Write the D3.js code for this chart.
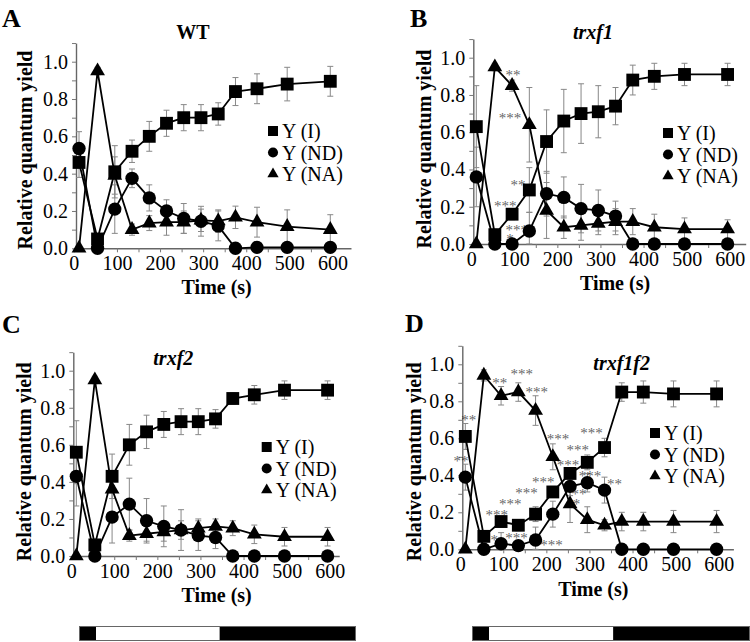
<!DOCTYPE html>
<html><head><meta charset="utf-8">
<script src="https://cdn.jsdelivr.net/npm/d3@7"></script>
<style>
body{margin:0;background:#fff}
svg{display:block}
text{font-family:"Liberation Serif","Times New Roman",serif;fill:#000}
</style>
</head><body>
<svg id="chart" width="750" height="642"></svg>
<script>
// ---------- data ----------
const times = [12, 55, 95, 135, 175, 215, 255, 295, 335, 375, 425, 495, 595];
const seriesNames = ["Y (I)", "Y (ND)", "Y (NA)"];
const xTickValues = [0, 50, 100, 150, 200, 250, 300, 350, 400, 450, 500, 550, 600];
const yTickValues = [0, 0.1, 0.2, 0.3, 0.4, 0.5, 0.6, 0.7, 0.8, 0.9, 1.0, 1.1];

// WT
const wtYI     = [0.46, 0.05, 0.41, 0.52, 0.60, 0.67, 0.70, 0.70, 0.72, 0.84, 0.855, 0.88, 0.895];
const wtYIerr  = [0.08, 0.02, 0.14, 0.06, 0.08, 0.07, 0.07, 0.07, 0.06, 0.075, 0.08, 0.09, 0.08];
const wtND     = [0.535, 0.0, 0.21, 0.375, 0.27, 0.20, 0.16, 0.145, 0.12, 0.0, 0.005, 0.005, 0.005];
const wtNDerr  = [0.09, 0, 0.13, 0.05, 0.07, 0.06, 0.08, 0.08, 0.08, 0, 0, 0, 0];
const wtNA     = [0.0, 0.95, 0.39, 0.10, 0.135, 0.14, 0.14, 0.15, 0.146, 0.166, 0.14, 0.116, 0.10];
const wtNAerr  = [0, 0.02, 0.10, 0.03, 0.04, 0.07, 0.06, 0.06, 0.06, 0.06, 0.08, 0.09, 0.08];

// trxf1
const f1YI     = [0.63, 0.05, 0.16, 0.29, 0.55, 0.66, 0.70, 0.71, 0.74, 0.88, 0.90, 0.91, 0.91];
const f1YIerr  = [0.22, 0.03, 0.03, 0.12, 0.17, 0.17, 0.16, 0.14, 0.10, 0.08, 0.07, 0.06, 0.06];
const f1ND     = [0.36, 0.0, 0.0, 0.07, 0.27, 0.25, 0.19, 0.18, 0.15, 0.0, 0.0, 0.0, 0.0];
const f1NDerr  = [0.16, 0, 0, 0.10, 0.12, 0.11, 0.13, 0.11, 0.08, 0, 0, 0, 0];
const f1NA     = [0.0, 0.95, 0.85, 0.64, 0.18, 0.09, 0.10, 0.11, 0.12, 0.12, 0.09, 0.08, 0.08];
const f1NAerr  = [0, 0.02, 0.03, 0.20, 0.15, 0.06, 0.08, 0.06, 0.07, 0.07, 0.07, 0.06, 0.05];

// trxf2
const f2YI     = [0.56, 0.06, 0.43, 0.60, 0.67, 0.71, 0.725, 0.725, 0.74, 0.85, 0.87, 0.895, 0.895];
const f2YIerr  = [0.17, 0.02, 0.12, 0.11, 0.09, 0.07, 0.07, 0.07, 0.05, 0.03, 0.05, 0.05, 0.05];
const f2ND     = [0.43, 0.0, 0.21, 0.28, 0.19, 0.16, 0.14, 0.11, 0.10, 0.0, 0.0, 0.0, 0.0];
const f2NDerr  = [0.16, 0, 0.14, 0.14, 0.12, 0.11, 0.11, 0.08, 0.06, 0, 0, 0, 0];
const f2NA     = [0.0, 0.95, 0.36, 0.11, 0.12, 0.13, 0.14, 0.15, 0.16, 0.15, 0.117, 0.104, 0.104];
const f2NAerr  = [0, 0.02, 0.02, 0.03, 0.04, 0.05, 0.05, 0.05, 0.04, 0.04, 0.05, 0.05, 0.05];

// trxf1f2
const f12YI    = [0.61, 0.07, 0.15, 0.13, 0.19, 0.31, 0.41, 0.47, 0.55, 0.85, 0.85, 0.84, 0.84];
const f12YIerr = [0.07, 0.03, 0.03, 0.03, 0.04, 0.03, 0.03, 0.04, 0.05, 0.05, 0.06, 0.07, 0.07];
const f12ND    = [0.39, 0.0, 0.03, 0.02, 0.05, 0.19, 0.34, 0.36, 0.32, 0.0, 0.0, 0.0, 0.0];
const f12NDerr = [0.07, 0, 0.06, 0.02, 0.07, 0.07, 0.05, 0.05, 0.07, 0, 0, 0, 0];
const f12NA    = [0.0, 0.94, 0.83, 0.85, 0.75, 0.50, 0.245, 0.16, 0.13, 0.15, 0.15, 0.15, 0.15];
const f12NAerr = [0, 0.03, 0.05, 0.05, 0.08, 0.07, 0.10, 0.07, 0.03, 0.05, 0.05, 0.06, 0.06];

// significance marks (time, value where the mark sits, text)
const f1Stars = [
  {t: 97, v: 0.92, s: "**"},
  {t: 90, v: 0.69, s: "***"},
  {t: 109, v: 0.33, s: "**"},
  {t: 79, v: 0.22, s: "***"},
  {t: 106, v: 0.09, s: "***"},
  {t: 90, v: 0.04, s: "*"}
];
const f12Stars = [
  {t: 20, v: 0.71, s: "**"},
  {t: 2, v: 0.49, s: "**"},
  {t: 92, v: 0.91, s: "**"},
  {t: 143, v: 0.96, s: "***"},
  {t: 178, v: 0.865, s: "***"},
  {t: 227, v: 0.61, s: "***"},
  {t: 305, v: 0.64, s: "***"},
  {t: 273, v: 0.55, s: "***"},
  {t: 250, v: 0.47, s: "***"},
  {t: 301, v: 0.41, s: "***"},
  {t: 358, v: 0.365, s: "**"},
  {t: 276, v: 0.31, s: "**"},
  {t: 270, v: 0.26, s: "*"},
  {t: 193, v: 0.38, s: "***"},
  {t: 154, v: 0.32, s: "***"},
  {t: 116, v: 0.26, s: "***"},
  {t: 85, v: 0.20, s: "***"},
  {t: 79, v: 0.065, s: "*"},
  {t: 131, v: 0.077, s: "***"},
  {t: 212, v: 0.038, s: "***"}
];

// light regime bar (seconds)
const lightPhases = [
  {state: "dark", from: 0, to: 40},
  {state: "light", from: 40, to: 330},
  {state: "dark", from: 330, to: 650}
];

// ---------- layout ----------
const panels = [
  {letter: "A", title: "WT", italic: false,
   values: [wtYI, wtND, wtNA], errors: [wtYIerr, wtNDerr, wtNAerr], stars: [],
   L: {ox: 76, oy: 248.3, ky: 186.6, tMax: 643, lx: 2, ly: 27, tx: 193, ty: 38.5,
       ylx: 32, yly: 150, xlx: 216.7, xly: 294, legX: 273, legY: 131}},
  {letter: "B", title: "trxf1", italic: true,
   values: [f1YI, f1ND, f1NA], errors: [f1YIerr, f1NDerr, f1NAerr], stars: f1Stars,
   L: {ox: 473.3, oy: 244, ky: 186.3, tMax: 637, lx: 410, ly: 27, tx: 593, ty: 38.5,
       ylx: 431, yly: 149, xlx: 615, xly: 289.5, legX: 668, legY: 133}},
  {letter: "C", title: "trxf2", italic: true,
   values: [f2YI, f2ND, f2NA], errors: [f2YIerr, f2NDerr, f2NAerr], stars: [],
   L: {ox: 73.3, oy: 556, ky: 185.3, tMax: 622, lx: 2, ly: 333, tx: 173.3, ty: 365,
       ylx: 31, yly: 461.7, xlx: 216.7, xly: 601.5, legX: 266.7, legY: 447}},
  {letter: "D", title: "trxf1f2", italic: true,
   values: [f12YI, f12ND, f12NA], errors: [f12YIerr, f12NDerr, f12NAerr], stars: f12Stars,
   L: {ox: 462.3, oy: 549.3, ky: 185, tMax: 634, lx: 405, ly: 332, tx: 621.7, ty: 370,
       ylx: 421, yly: 461.7, xlx: 593.3, xly: 596, legX: 655, legY: 433}}
];
const bars = [{x0: 79, x1: 356}, {x0: 472, x1: 750}];
const BAR_Y = 626, BAR_H = 15;
const KX = 0.431, T0 = 5;
const symbolTypes = [d3.symbolSquare, d3.symbolCircle, d3.symbolTriangle];
const symbolSizes = [165, 140, 95];
const legendSizes = [100, 80, 55];

const svg = d3.select("#chart");
svg.append("rect").attr("width", 750).attr("height", 642).attr("fill", "#fff");

panels.forEach(p => {
  const L = p.L;
  const x = d3.scaleLinear().domain([T0, L.tMax]).range([L.ox, L.ox + (L.tMax - T0) * KX]);
  const y = d3.scaleLinear().domain([0, 1.1]).range([L.oy, L.oy - 1.1 * L.ky]);
  const g = svg.append("g");

  // axes
  const yAx = g.append("g").attr("transform", `translate(${L.ox},0)`)
    .call(d3.axisLeft(y).tickValues(yTickValues).tickSize(4).tickSizeOuter(0).tickPadding(4)
      .tickFormat(d => (Math.round(d * 10) % 2 === 0 && d <= 1.0001) ? d3.format(".1f")(d) : ""));
  const xAx = g.append("g").attr("transform", `translate(0,${L.oy})`)
    .call(d3.axisBottom(x).tickValues(xTickValues.filter(v => v <= L.tMax)).tickSize(4).tickSizeOuter(0).tickPadding(4)
      .tickFormat(d => d % 100 === 0 ? d : ""));
  [yAx, xAx].forEach(a => {
    a.select(".domain").attr("stroke", "#666").attr("stroke-width", 1.4);
    a.selectAll(".tick line").attr("stroke", "#777").attr("stroke-width", 1);
    a.selectAll(".tick text").style("font-size", "20px").attr("fill", "#000");
  });

  // error bars
  p.values.forEach((vals, si) => {
    const errs = p.errors[si];
    vals.forEach((v, i) => {
      const e = errs[i];
      if (!e) return;
      const cx = x(times[i]);
      const y1 = y(Math.max(0, v - e)), y2 = y(v + e);
      g.append("line").attr("x1", cx).attr("x2", cx).attr("y1", y1).attr("y2", y2)
        .attr("stroke", "#888").attr("stroke-width", 1);
      [y1, y2].forEach(yy => g.append("line").attr("x1", cx - 3).attr("x2", cx + 3)
        .attr("y1", yy).attr("y2", yy).attr("stroke", "#888").attr("stroke-width", 1));
    });
  });

  // lines
  const line = d3.line().x((d, i) => x(times[i])).y(d => y(d));
  p.values.forEach(vals => {
    g.append("path").attr("d", line(vals)).attr("fill", "none")
      .attr("stroke", "#000").attr("stroke-width", 1.8);
  });

  // markers
  p.values.forEach((vals, si) => {
    const sym = d3.symbol().type(symbolTypes[si]).size(symbolSizes[si]);
    g.selectAll(null).data(vals).enter().append("path")
      .attr("d", sym)
      .attr("transform", (d, i) => `translate(${x(times[i])},${y(d)})`)
      .attr("fill", "#000");
  });

  // significance marks
  const sg = g.append("g").attr("opacity", 0.62);
  sg.selectAll(null).data(p.stars).enter().append("text")
    .attr("x", d => x(d.t)).attr("y", d => y(d.v)).attr("dy", "0.5em")
    .attr("text-anchor", "middle").style("font-size", "15px")
    .style("fill", "#000").text(d => d.s);

  // legend
  seriesNames.forEach((name, si) => {
    const ly = L.legY + si * 21.5;
    g.append("path").attr("d", d3.symbol().type(symbolTypes[si]).size(legendSizes[si]))
      .attr("transform", `translate(${L.legX},${ly})`).attr("fill", "#000");
    g.append("text").attr("x", L.legX + 9).attr("y", ly + 7).style("font-size", "20px").text(name);
  });

  // titles and labels
  g.append("text").attr("x", L.lx).attr("y", L.ly).style("font-size", "26px")
    .style("font-weight", "bold").text(p.letter);
  g.append("text").attr("x", L.tx).attr("y", L.ty).attr("text-anchor", "middle")
    .style("font-size", "20px").style("font-weight", "bold")
    .style("font-style", p.italic ? "italic" : "normal").text(p.title);
  g.append("text").attr("transform", `translate(${L.ylx},${L.yly}) rotate(-90)`)
    .attr("text-anchor", "middle").style("font-size", "20px").style("font-weight", "bold")
    .text("Relative quantum yield");
  g.append("text").attr("x", L.xlx).attr("y", L.xly).attr("text-anchor", "middle")
    .style("font-size", "20px").style("font-weight", "bold").text("Time (s)");
});

// light/dark bars
bars.forEach(b => {
  const bx = d3.scaleLinear().domain([0, 650]).range([b.x0, b.x1]);
  const bg = svg.append("g");
  bg.selectAll(null).data(lightPhases).enter().append("rect")
    .attr("x", d => bx(d.from)).attr("width", d => bx(d.to) - bx(d.from))
    .attr("y", BAR_Y).attr("height", BAR_H)
    .attr("fill", d => d.state === "dark" ? "#000" : "#fff");
  bg.append("rect").attr("x", b.x0 + 0.5).attr("y", BAR_Y + 0.5)
    .attr("width", b.x1 - b.x0 - 1).attr("height", BAR_H - 1)
    .attr("fill", "none").attr("stroke", "#666").attr("stroke-width", 1);
});
</script>
</body></html>
